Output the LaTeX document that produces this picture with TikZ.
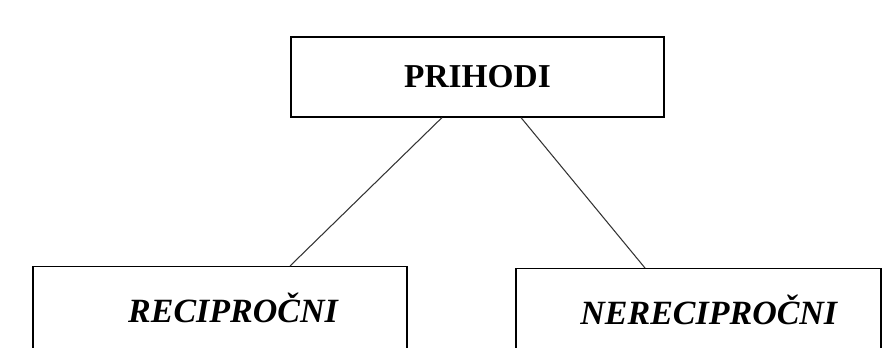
\documentclass[tikz,border=0pt]{standalone}
\usepackage{fontspec}
\setmainfont{Liberation Serif}
\usepackage{tikz}
\usetikzlibrary{positioning}

\begin{document}
\begin{tikzpicture}
        \useasboundingbox (0,0) rectangle (26.46,-10.41);
        \clip (0,0) rectangle (26.46,-10.41);
        \tikzset{
            box/.style={draw, line width=1pt, rectangle, minimum height=2.4cm, inner sep=0pt},
            link/.style={line width=0.9pt, draw=black!80}
        }
        % Define the nodes
        \node[box, minimum width=11.19cm, font=\fontsize{28.5}{30}\selectfont\bfseries] (prihodi) at (14.325,-2.31) {PRIHODI};
        
        \node[box, minimum width=11.22cm, minimum height=2.46cm, anchor=north, font=\fontsize{29}{30}\selectfont\bfseries\itshape] (recip) at (6.6,-7.98) {\hspace*{0.78cm}RECIPROČNI};
        \node[box, minimum width=10.95cm, minimum height=2.46cm, anchor=north, font=\fontsize{29}{30}\selectfont\bfseries\itshape] (nerecip) at (20.955,-8.04) {\hspace*{0.62cm}NERECIPROČNI};
        
        % Define the edges
        \draw[link] ([xshift=-1.065cm]prihodi.south) -- ([xshift=2.1cm]recip.north);
        \draw[link] ([xshift=1.305cm]prihodi.south) -- ([xshift=-1.605cm]nerecip.north);
    \end{tikzpicture}
\end{document}
